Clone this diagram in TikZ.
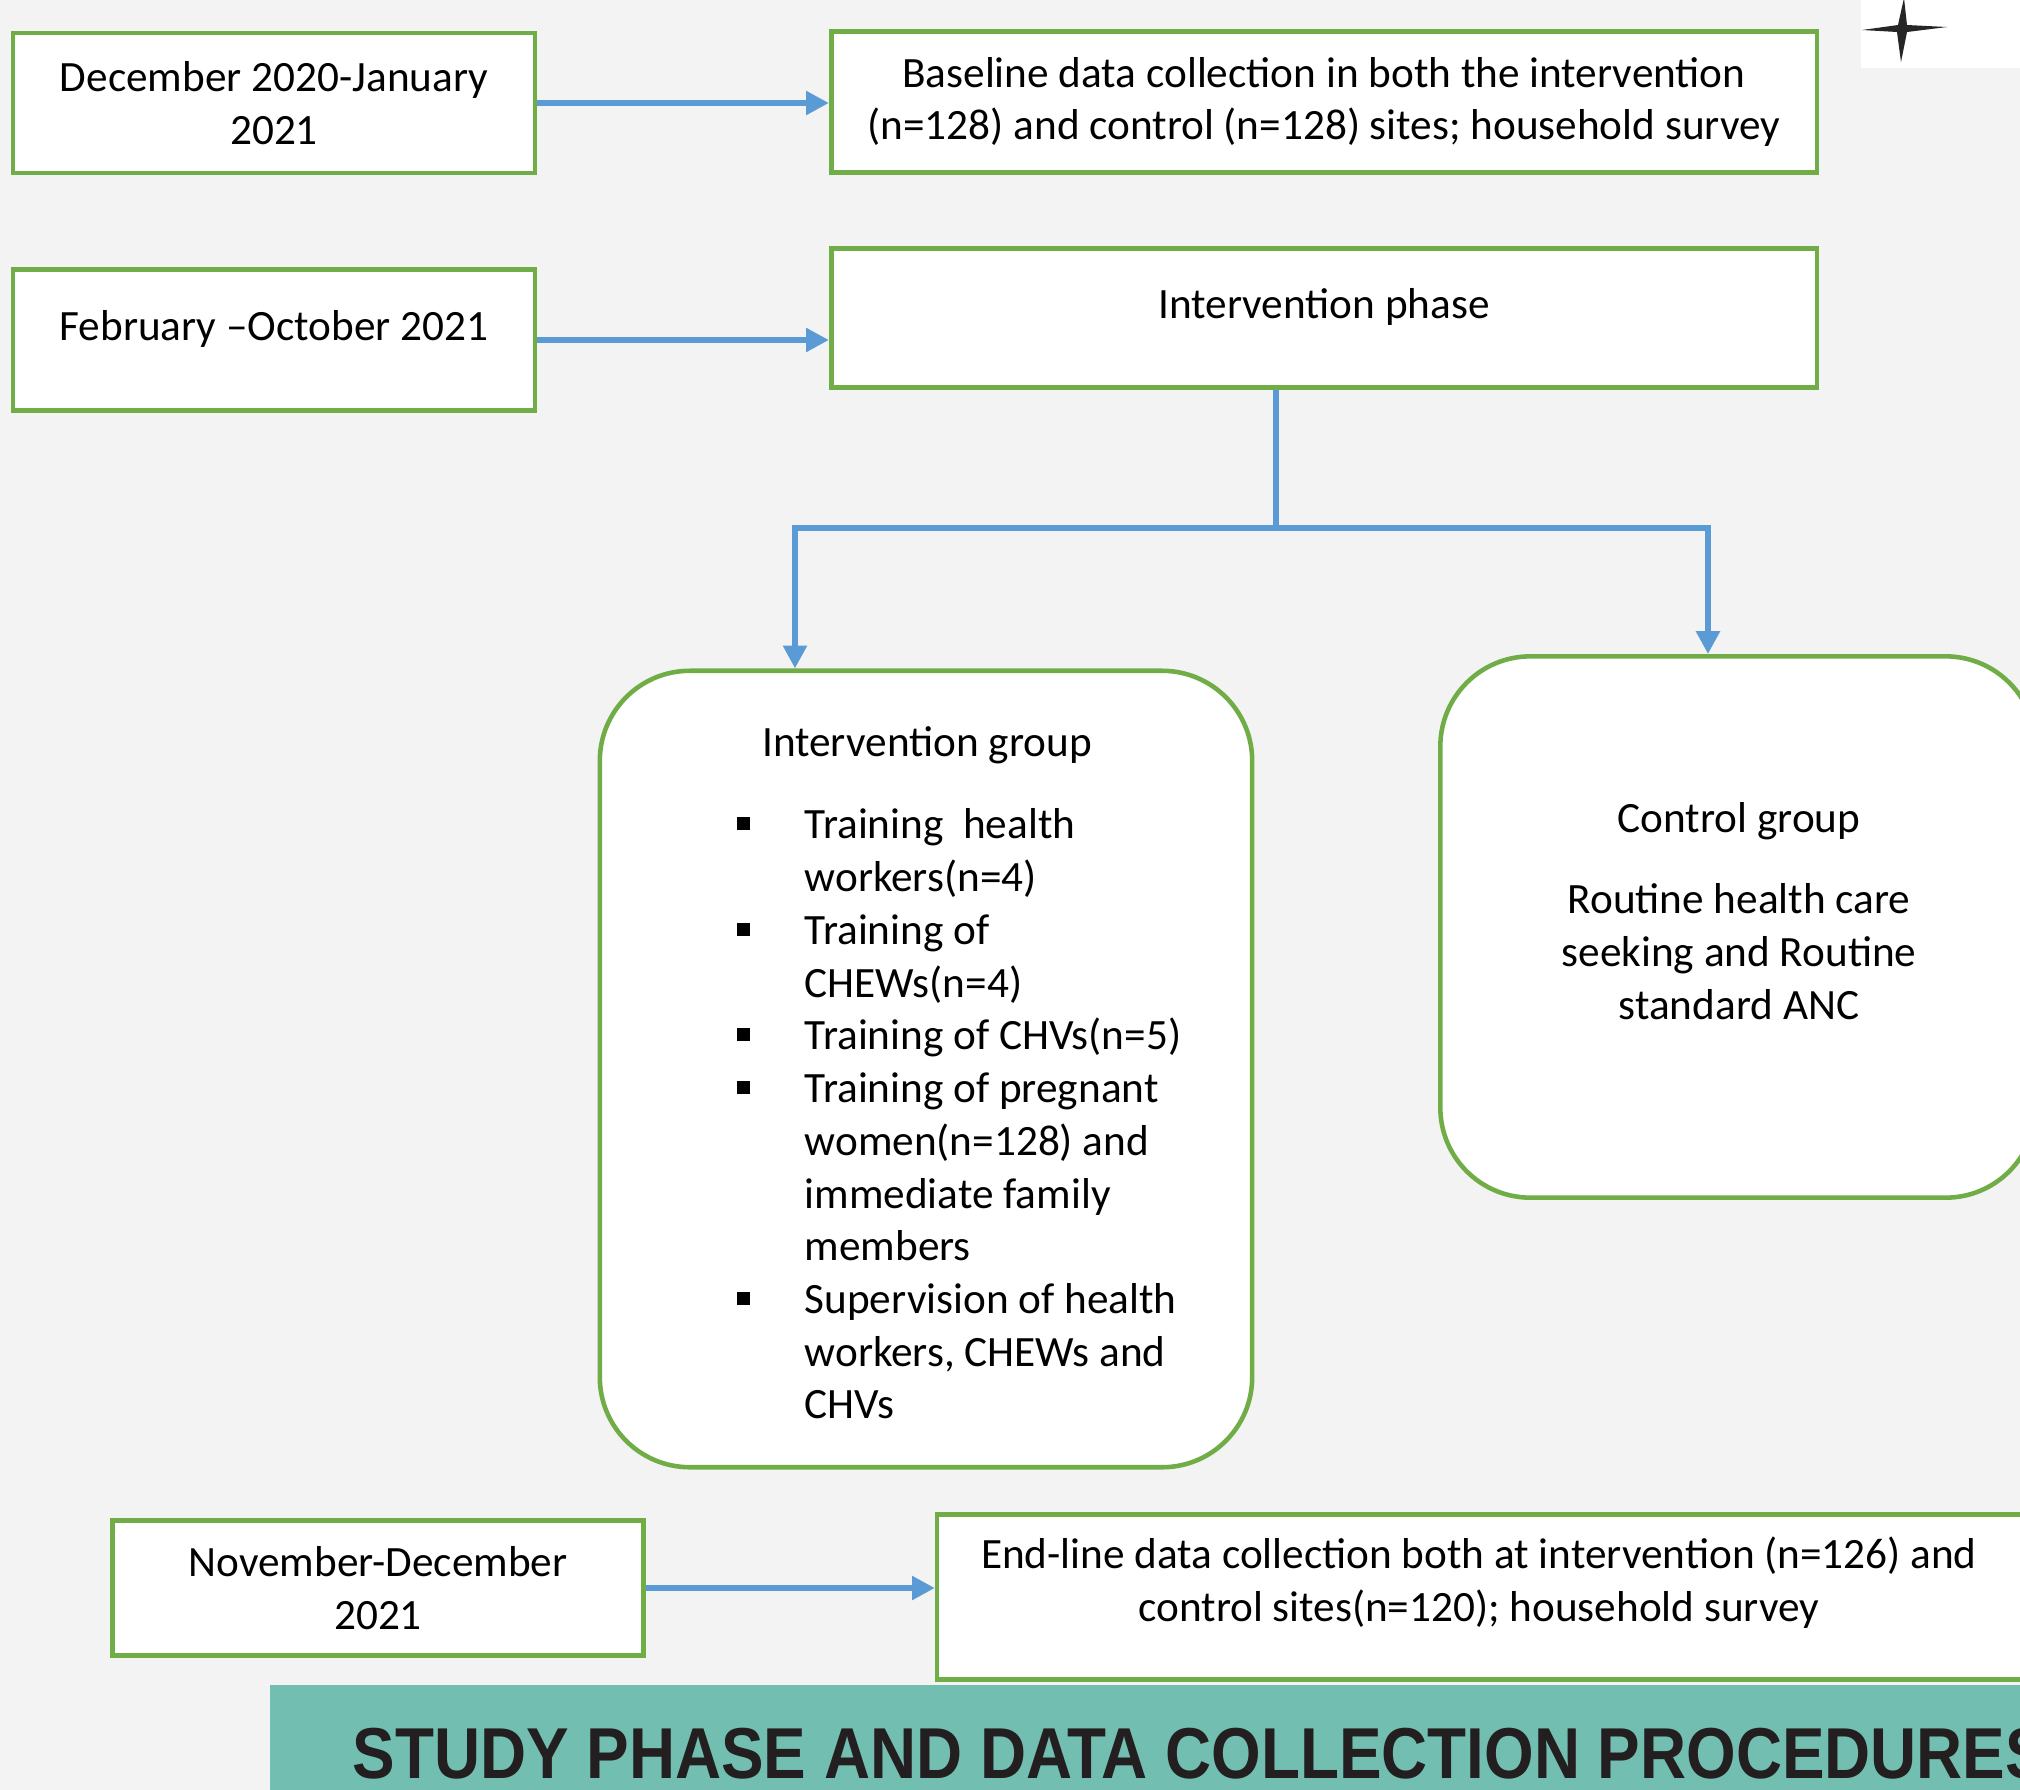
\documentclass[tikz,border=0pt]{standalone}
\usepackage{fontspec}
\setmainfont{Carlito}
\newfontfamily\bannerfont{Liberation Sans}[FakeStretch=0.885]
\usetikzlibrary{arrows.meta,calc}

\definecolor{boxgreen}{HTML}{70AD47}
\definecolor{flowblue}{HTML}{5B9BD5}
\definecolor{pagegray}{HTML}{F3F3F3}
\definecolor{bannerteal}{HTML}{72BFB1}
\definecolor{bannerink}{HTML}{231F20}

\newcommand{\sqbullet}{\llap{\rule[0.4ex]{0.13cm}{0.13cm}\hspace{0.55cm}}}

\tikzset{
  phasebox/.style={draw=boxgreen, line width=1.3pt, fill=white, align=center, inner sep=0pt,
    font=\fontsize{12.3}{15}\selectfont},
  groupbox/.style={phasebox, rounded corners=0.9cm},
  boxtext/.style={align=center, inner sep=0pt, font=\fontsize{12.3}{15}\selectfont},
  flow/.style={draw=flowblue, line width=1.8pt},
  flowarrow/.style={flow, -{Triangle[length=6.5pt,width=6.5pt]}},
}

\begin{document}
\begin{tikzpicture}[x=0.01cm, y=-0.01cm]
  \useasboundingbox (0,0) rectangle (2020,1790);
  \clip (0,0) rectangle (2020,1790);
  \fill[pagegray] (0,0) rectangle (2020,1790);

  % corner mark
  \fill[white] (1861,0) rectangle (2020,68);
  \fill[black!85] (1862,30) -- (1898,25) -- (1904,-2) -- (1907,25) -- (1947,27)
    -- (1907,32) -- (1901,62) -- (1897,32) -- cycle;

  % time line
  \node[phasebox, minimum width=5.22cm, minimum height=1.40cm] (dec) at (274,103)
    {December 2020-January\\2021};
  \node[phasebox, minimum width=9.85cm, minimum height=1.41cm] (baseline) at (1324,102)
    {Baseline data collection in both the intervention\\(n=128) and control (n=128) sites; household survey};
  \node[phasebox, minimum width=5.22cm, minimum height=1.41cm, text height=2ex, text depth=2ex] (feb) at (274,340)
    {February --October 2021};
  \node[phasebox, minimum width=9.85cm, minimum height=1.39cm, text height=2ex, text depth=2ex] (phase) at (1324,318)
    {Intervention phase};

  \draw[flowarrow] (dec.east) -- (dec.east -| baseline.west);
  \draw[flowarrow] (feb.east) -- (feb.east -| phase.west);

  % the two groups
  \node[groupbox, minimum width=6.52cm, minimum height=7.96cm] (intgroup) at (926,1069) {};
  \node[boxtext] (inttitle) at (927,745) {Intervention group};
  \node[boxtext, align=left, anchor=north west] (intlist) at (804,808)
    {\sqbullet Training\ \ health\\
     workers(n=4)\\
     \sqbullet Training of\\
     CHEWs(n=4)\\
     \sqbullet Training of CHVs(n=5)\\
     \sqbullet Training of pregnant\\
     women(n=128) and\\
     immediate family\\
     members\\
     \sqbullet Supervision of health\\
     workers, CHEWs and\\
     CHVs};

  \node[groupbox, minimum width=5.95cm, minimum height=5.41cm] (ctrlgroup) at (1738,927) {};
  \node[boxtext] (ctrltext) at (1739,911)
    {Control group\\[0.28cm] Routine health care\\seeking and Routine\\standard ANC};

  \coordinate (split) at (1276,528);
  \coordinate (leftsplit) at (795,528);
  \coordinate (rightsplit) at (1708,528);
  \draw[flow] (phase.south -| split) -- (split);
  \draw[flowarrow] (split) -- (leftsplit) -- (leftsplit |- intgroup.north);
  \draw[flowarrow] (split) -- (rightsplit) -- (rightsplit |- ctrlgroup.north);

  % end line
  \node[phasebox, minimum width=5.31cm, minimum height=1.35cm] (nov) at (378,1588)
    {November-December\\2021};
  \node[phasebox, minimum width=10.97cm, minimum height=1.65cm] (endline) at (1486,1597) {};
  \node[boxtext] (endtext) at (1479,1583)
    {End-line data collection both at intervention (n=126) and\\control sites(n=120); household survey};
  \draw[flowarrow] (nov.east) -- (nov.east -| endline.west);

  % banner
  \fill[bannerteal] (270,1685) rectangle (2020,1790);
  \node[anchor=base west, inner sep=0pt, text=bannerink, font=\bannerfont\bfseries\fontsize{20.5}{24}\selectfont] (banner) at (352,1778)
    {STUDY PHASE AND DATA COLLECTION PROCEDURES};
\end{tikzpicture}
\end{document}
